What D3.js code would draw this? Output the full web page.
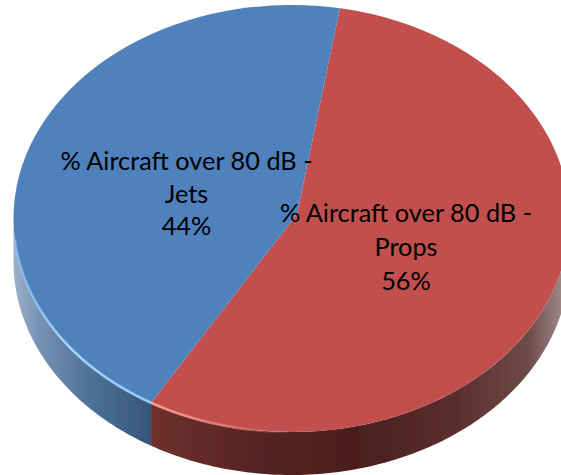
<!DOCTYPE html>
<html>
<head>
<meta charset="utf-8">
<script src="https://cdn.jsdelivr.net/npm/d3@7"></script>
<style>
html,body{margin:0;padding:0;background:#fff;overflow:hidden}
text{font-family:Lato,"Open Sans",sans-serif;fill:#000}
</style>
</head>
<body>
<script>
// data
const categories = ["% Aircraft over 80 dB - Props", "% Aircraft over 80 dB - Jets"];
const labelLines = [["% Aircraft over 80 dB -", "Props"], ["% Aircraft over 80 dB -", "Jets"]];
const values = [56, 44];
const sliceColors = ["#c0504d", "#4f81bd"];

const width = 561, height = 475;
// top face ellipse, the tilt makes the wedge tip sit off its centre
const cx = 291.5, cy = 218.5, rx = 278, ry = 213.5, depth = 43;
const tipX = 297, tipY = 214;
const squash = ry / rx;
const startDeg = 9.1;

const svg = d3.select("body").append("svg")
  .attr("width", width).attr("height", height)
  .style("display", "block");
const defs = svg.append("defs");

defs.append("filter").attr("id", "soft")
  .append("feGaussianBlur").attr("stdDeviation", 0.5);

defs.append("clipPath").attr("id", "face")
  .append("ellipse").attr("cx", cx).attr("cy", cy).attr("rx", rx).attr("ry", ry);

const gradient = (id, x1, x2, stops) => {
  const g = defs.append("linearGradient").attr("id", id)
    .attr("gradientUnits", "userSpaceOnUse")
    .attr("x1", x1).attr("x2", x2).attr("y1", 0).attr("y2", 0);
  stops.forEach(s => g.append("stop").attr("offset", s[0]).attr("stop-color", s[1]).attr("stop-opacity", s[2] === undefined ? 1 : s[2]));
};

const pie = d3.pie().sort(null).value(d => d)
  .startAngle(startDeg * Math.PI / 180)
  .endAngle(startDeg * Math.PI / 180 + 2 * Math.PI);
const arcs = pie(values);
const arc = d3.arc().innerRadius(0).outerRadius(900);

// where the slice border hits the rim, as a parameter on the ellipse
const rimParam = a => {
  const dx = Math.sin(a), dy = -Math.cos(a) * squash;
  const ox = (tipX - cx) / rx, oy = (tipY - cy) / ry;
  const nx = dx / rx, ny = dy / ry;
  const A = nx * nx + ny * ny, B = 2 * (ox * nx + oy * ny), C = ox * ox + oy * oy - 1;
  const t = (-B + Math.sqrt(B * B - 4 * A * C)) / (2 * A);
  return Math.atan2(oy + ny * t, ox + nx * t);
};
const split = rimParam(arcs[0].endAngle);

const rim = d3.line().x(p => cx + rx * Math.cos(p)).y(p => cy + ry * Math.sin(p));
const rimLow = d3.line().x(p => cx + rx * Math.cos(p)).y(p => cy + depth + ry * Math.sin(p));
const angles = (a, b) => d3.range(0, 121).map(i => a + (b - a) * i / 120);
const wallPath = (a, b) => {
  const top = angles(a, b), low = angles(b, a);
  return rim(top) + "L" + rimLow(low).slice(1) + "Z";
};

gradient("wallRed", 153, 561, [[0, "#6e302d"], [0.3, "#52211f"], [0.5, "#4b1f1e"], [0.75, "#5b2f2e"], [0.92, "#6f4a4a"], [1, "#9b8585"]]);
gradient("wallBlue", 13, 153, [[0, "#9db0ca"], [0.2, "#7490b2"], [0.55, "#4f7197"], [1, "#345578"]]);
gradient("lineBlue", 13, 153, [[0, "#8fc0f2", 0.6], [0.4, "#a4d4ff"], [1, "#93caf8"]]);
gradient("lineRed", 153, 300, [[0, "#f5a096"], [0.6, "#e58079", 0.7], [1, "#c0504d", 0]]);

const soft = svg.append("g").attr("filter", "url(#soft)");

// side wall
soft.append("path").attr("d", wallPath(0, split)).attr("fill", "url(#wallRed)");
soft.append("path").attr("d", wallPath(split, Math.PI)).attr("fill", "url(#wallBlue)");

// top face
const face = soft.append("g").attr("clip-path", "url(#face)");
face.selectAll("path")
  .data(arcs)
  .enter()
  .append("path")
  .attr("transform", `translate(${tipX},${tipY}) scale(1,${squash})`)
  .attr("d", arc)
  .attr("fill", (d, i) => sliceColors[i]);

// light rim on the front edge
soft.append("path").attr("d", rim(angles(split, Math.PI * 0.97)))
  .attr("fill", "none").attr("stroke", "url(#lineBlue)").attr("stroke-width", 2.6);
soft.append("path").attr("d", rim(angles(Math.PI * 0.5, split)))
  .attr("fill", "none").attr("stroke", "url(#lineRed)").attr("stroke-width", 2.6);

// labels
const labelPos = [[406, 222, 34], [186.5, 170, 32.5]];
const labels = svg.selectAll("g.label")
  .data(arcs)
  .enter()
  .append("g")
  .attr("class", "label");
labels.each(function (d, i) {
  const lines = labelLines[i].concat([values[i] + "%"]);
  d3.select(this).selectAll("text")
    .data(lines)
    .enter()
    .append("text")
    .attr("x", labelPos[i][0])
    .attr("y", (l, j) => labelPos[i][1] + j * labelPos[i][2])
    .attr("text-anchor", "middle")
    .attr("font-size", 25.3)
    .text(l => l);
});
</script>
</body>
</html>
